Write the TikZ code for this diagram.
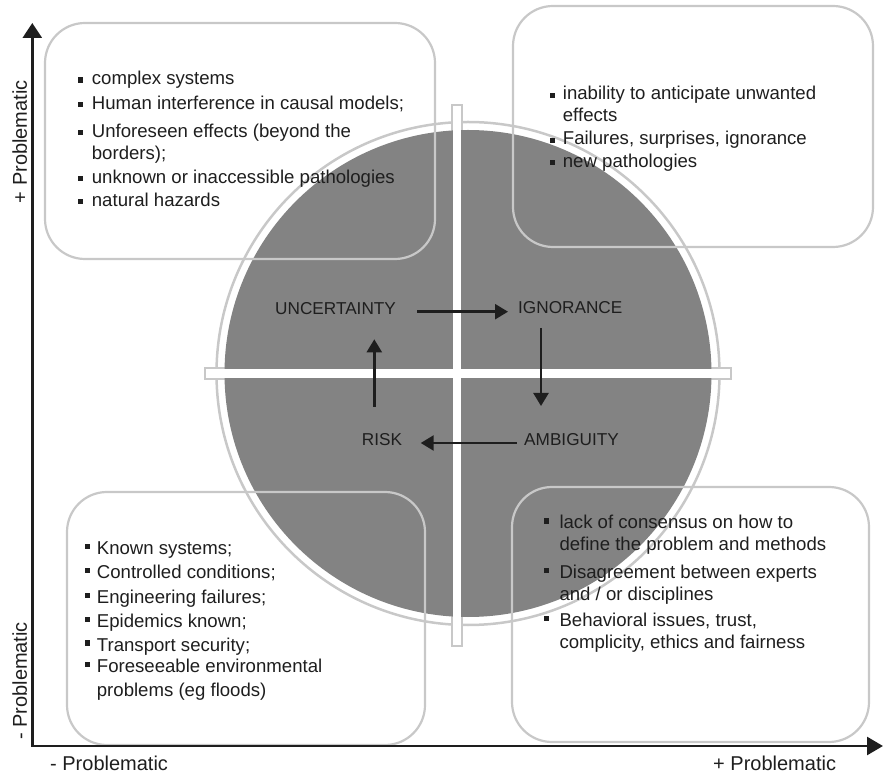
\documentclass[tikz,border=0pt]{standalone}
\usepackage{fontspec}
\setmainfont{Liberation Sans}
\usetikzlibrary{arrows.meta}
\definecolor{diskgray}{RGB}{131,131,131}
\definecolor{ringgray}{RGB}{200,200,200}
\definecolor{txtcol}{RGB}{30,30,30}
\begin{document}
\begin{tikzpicture}[x=1pt,y=-1pt,
  boxline/.style={draw=ringgray, line width=2.2pt, rounded corners=40pt},
  txt/.style={font=\fontsize{18.6}{22}\selectfont, text=txtcol, inner sep=0pt, anchor=base west},
  lab/.style={font=\fontsize{17.2}{20}\selectfont, text=txtcol, inner sep=0pt, anchor=base west},
  axlab/.style={font=\fontsize{20}{24}\selectfont, text=txtcol, inner sep=0pt, anchor=base west},
  bul/.style={rectangle, fill=txtcol, minimum size=5.3pt, inner sep=0pt, draw=none},
  flow/.style={draw=txtcol, line width=2.4pt, -{Triangle[width=15pt,length=13pt]}}
]
\useasboundingbox (0,0) rectangle (884,775);

% cross outlines
\coordinate (C) at (468,373.5);
\draw[fill=white, draw=ringgray, line width=1.8pt] (452,105) rectangle (462,646);
\draw[fill=white, draw=ringgray, line width=1.8pt] (205,368) rectangle (731,379);
% ring and disk
\draw[ringgray, line width=2.5pt] (C) circle [radius=251.5pt];
\fill[diskgray] (C) circle [radius=243.5pt];
% white inner bars
\fill[white] (452.9,105.9) rectangle (461.1,645.1);
\fill[white] (205.9,368.9) rectangle (730.1,378.1);

% boxes
\draw[boxline] (45,23) rectangle (435,259);
\draw[boxline] (513,6) rectangle (873,247);
\draw[boxline] (67,492) rectangle (425,745);
\draw[boxline] (512,487) rectangle (869,742);

% axes
\coordinate (O) at (32.3,746);
\coordinate (ytip) at (32.3,23);
\coordinate (xtip) at (883,746);
\draw[line width=2.7pt, color=txtcol, line join=miter, {Triangle[width=19pt,length=15pt]}-{Triangle[width=18pt,length=16pt]}] (ytip) -- (O) -- (xtip);

\node[axlab, rotate=90] (lplus) at (27,203.3) {+ Problematic};
\node[axlab, rotate=90] (lminus) at (27,740) {- Problematic};
\node[axlab] (bminus) at (50,770.5) {- Problematic};
\node[axlab] (bplus) at (713,770.5) {+ Problematic};

% top-left box text
\node[txt] (tl1) at (91.7,85) {complex systems};
\node[txt] (tl2) at (91.7,109.3) {Human interference in causal models;};
\node[txt] (tl3) at (91.7,137.5) {Unforeseen effects (beyond the};
\node[txt] (tl4) at (91.7,159.3) {borders);};
\node[txt] (tl5) at (91.7,183.3) {unknown or inaccessible pathologies};
\node[txt] (tl6) at (91.7,206.7) {natural hazards};
\foreach \i/\y in {1/85,2/109.3,3/137.5,5/183.3,6/206.7}
  \node[bul] (tlb\i) at (80.5,\y-5) {};

% top-right box text
\node[txt] (tr1) at (562.7,100) {inability to anticipate unwanted};
\node[txt] (tr2) at (562.7,121.7) {effects};
\node[txt] (tr3) at (562.7,145) {Failures, surprises, ignorance};
\node[txt] (tr4) at (562.7,167.3) {new pathologies};
\foreach \i/\y in {1/100,3/145,4/167.3}
  \node[bul] (trb\i) at (552.5,\y-4.5) {};

% bottom-left box text
\node[txt] (bl1) at (96.7,554.3) {Known systems;};
\node[txt] (bl2) at (96.7,578.3) {Controlled conditions;};
\node[txt] (bl3) at (96.7,603.3) {Engineering failures;};
\node[txt] (bl4) at (96.7,627.3) {Epidemics known;};
\node[txt] (bl5) at (96.7,651) {Transport security;};
\node[txt] (bl6) at (96.7,672.7) {Foreseeable environmental};
\node[txt] (bl7) at (96.7,696.7) {problems (eg floods)};
\foreach \i/\y in {1/554.3,2/578.3,3/603.3,4/627.3,5/651,6/672.7}
  \node[bul] (blb\i) at (87.2,\y-8) {};

% bottom-right box text
\node[txt] (br1) at (559.3,529) {lack of consensus on how to};
\node[txt] (br2) at (559.3,550.7) {define the problem and methods};
\node[txt] (br3) at (559.3,578.3) {Disagreement between experts};
\node[txt] (br4) at (559.3,600) {and / or disciplines};
\node[txt] (br5) at (559.3,626.7) {Behavioral issues, trust,};
\node[txt] (br6) at (559.3,648.3) {complicity, ethics and fairness};
\foreach \i/\y in {1/529,3/578.3,5/626.7}
  \node[bul] (brb\i) at (546.8,\y-8) {};

% centre labels
\node[lab] (unc) at (275,315) {UNCERTAINTY};
\node[lab] (ign) at (518,314) {IGNORANCE};
\node[lab] (risk) at (361.7,445.5) {RISK};
\node[lab] (amb) at (524,445.5) {AMBIGUITY};

\draw[flow] ([shift={(142,-3.3)}]unc.base west) -- ([shift={(-10,-2.3)}]ign.base west);
\draw[flow] ([shift={(23,14)}]ign.base west) -- ([shift={(17,-39.5)}]amb.base west);
\draw[flow] ([shift={(-7.3,-2.5)}]amb.base west) -- ([shift={(59,-2.5)}]risk.base west);
\draw[flow] ([shift={(12.6,-38.8)}]risk.base west) -- ([shift={(99.3,24.3)}]unc.base west);
\end{tikzpicture}
\end{document}
